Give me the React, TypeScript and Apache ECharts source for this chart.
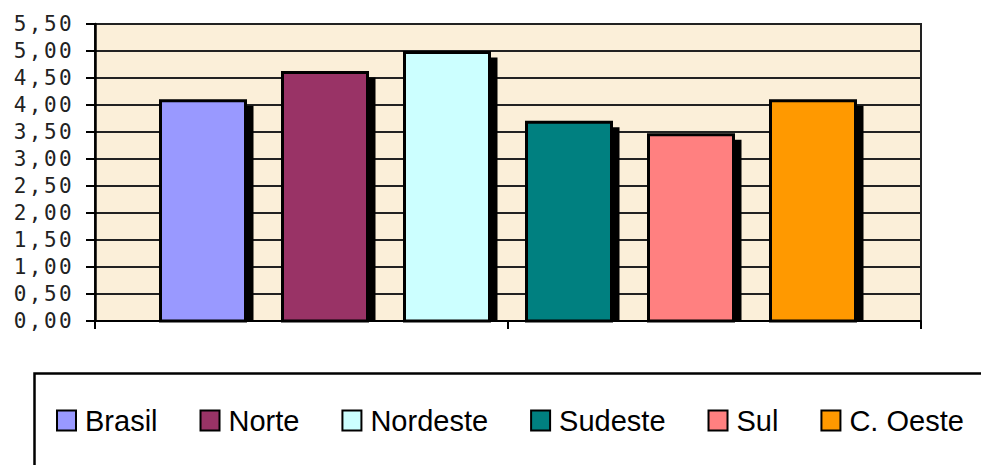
import React, { useEffect, useRef } from "react";
import * as echarts from "echarts";

const regions = ["Brasil", "Norte", "Nordeste", "Sudeste", "Sul", "C. Oeste"];
const values = [4.08, 4.6, 4.97, 3.68, 3.45, 4.08];
const colors = ["#9999FF", "#993366", "#CCFFFF", "#008080", "#FF8080", "#FF9900"];
const yMin = 0;
const yMax = 5.5;
const yStep = 0.5;

const STEP = 122 / 826;
const BARW = 85 / 826;

export default function App() {
  const ref = useRef<HTMLDivElement>(null);
  useEffect(() => {
    if (!ref.current) return;
    const chart = echarts.init(ref.current, null, { renderer: "svg" });
    const n = regions.length;
    const series = regions.map((name, i) => ({
      name,
      type: "custom",
      xAxisIndex: 0,
      yAxisIndex: 0,
      itemStyle: { color: colors[i], borderColor: "#000", borderWidth: 2 },
      encode: { x: 0, y: 1 },
      data: [[0, values[i]]],
      renderItem: (params: any, api: any) => {
        const v = api.value(1);
        const top = api.coord([0, v]);
        const base = api.coord([0, 0]);
        const catW = api.size([1, 0])[0];
        const idx = params.seriesIndex;
        const cx = base[0] + (idx - (n - 1) / 2) * catW * STEP;
        const w = catW * BARW;
        const x = cx - w / 2;
        return {
          type: "group",
          children: [
            {
              type: "rect",
              shape: { x: x + 8, y: top[1] + 5, width: w, height: base[1] - top[1] - 5 },
              style: { fill: "#000" },
            },
            {
              type: "rect",
              shape: { x, y: top[1], width: w, height: base[1] - top[1] },
              style: { fill: colors[idx], stroke: "#000", lineWidth: 3 },
            },
          ],
        };
      },
    }));
    chart.setOption({
      animation: false,
      backgroundColor: "#fff",
      grid: {
        left: 95,
        top: 24,
        width: 826,
        height: 297,
        show: true,
        backgroundColor: "#FBEFD9",
        borderColor: "#222",
        borderWidth: 2,
      },
      xAxis: [
        {
          type: "category",
          data: [""],
          axisLine: { show: true, lineStyle: { color: "#000", width: 2 } },
          axisTick: { show: false },
          axisLabel: { show: false },
          splitLine: { show: false },
        },
        {
          type: "category",
          data: ["", ""],
          position: "bottom",
          axisLine: { show: false },
          axisTick: { show: true, length: 8, lineStyle: { color: "#000", width: 2 } },
          axisLabel: { show: false },
          splitLine: { show: false },
        },
      ],
      yAxis: {
        type: "value",
        min: yMin,
        max: yMax,
        interval: yStep,
        axisLine: { show: true, lineStyle: { color: "#000", width: 2.5 } },
        axisTick: { show: true, length: 9, lineStyle: { color: "#000", width: 2 } },
        axisLabel: {
          margin: 21,
          color: "#222",
          fontFamily: "DejaVu Sans Mono",
          fontSize: 21,
          formatter: (v: number) => v.toFixed(2).replace(".", ","),
        },
        splitLine: { show: true, lineStyle: { color: "#222", width: 2 } },
      },
      legend: {
        left: 56,
        top: 406,
        padding: 0,
        icon: "rect",
        itemWidth: 19,
        itemHeight: 20,
        itemGap: 42,
        itemStyle: { borderColor: "#000", borderWidth: 2 },
        textStyle: {
          fontFamily: "Liberation Sans",
          fontSize: 29,
          color: "#000",
          padding: [0, 0, 0, 4],
        },
        data: regions,
      },
      graphic: [
        {
          type: "rect",
          left: 32,
          top: 371,
          shape: { width: 1000, height: 200 },
          style: { fill: "none", stroke: "#000", lineWidth: 2.5 },
          silent: true,
        },
      ],
      series,
    });
    return () => chart.dispose();
  }, []);
  return (
    <>
      <style>{`body{margin:0} text[style*="DejaVu Sans Mono"]{letter-spacing:2.4px}`}</style>
      <div ref={ref} style={{ position: "absolute", left: 0, top: 0, width: 981, height: 465 }} />
    </>
  );
}
